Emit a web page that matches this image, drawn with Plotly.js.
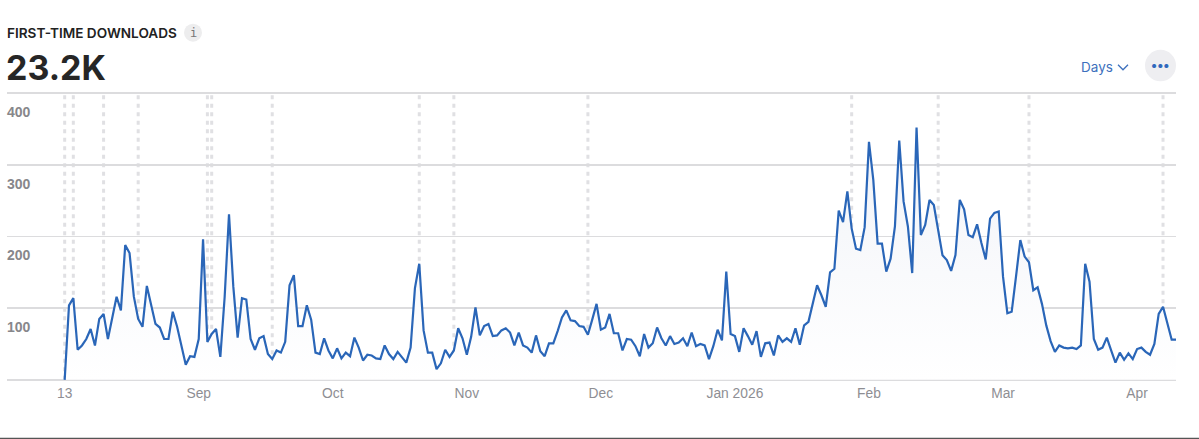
<!DOCTYPE html>
<html><head><meta charset="utf-8">
<script src="https://cdn.plot.ly/plotly-3.0.1.min.js"></script>
<style>html,body{margin:0;padding:0;background:#fff;overflow:hidden}#c{width:1199px;height:439px}</style>
</head><body><div id="c"></div>
<script>
const downloads = [0,104,114,42,48,57,71,48,85,92,57,85,116,97,188,177,116,85,74,131,104,78,73,57,57,95,74,48,21,33,32,57,196,53,64,71,32,116,231,130,59,114,112,57,42,58,61,36,29,41,38,53,132,146,75,
75,104,84,38,36,58,41,30,44,30,38,33,59,45,27,35,34,30,29,48,36,29,39,32,24,45,128,162,69,38,38,15,23,42,32,41,72,58,35,60,101,62,75,78,61,62,69,72,66,48,66,48,45,38,62,40,33,51,51,68,87,97,83,82,75,74,63,84,106,
70,73,92,65,65,41,57,56,47,33,64,45,51,73,58,48,61,50,52,58,47,66,47,50,48,29,47,70,55,151,64,61,39,72,61,49,68,32,51,52,34,62,53,58,53,72,49,76,81,109,132,118,102,150,155,236,220,263,211,183,181,213,332,279,190,190,151,169,214,334,249,214,149,352,202,216,251,244,207,174,167,152,174,251,238,202,199,217,191,168,225,233,235,144,93,95,144,195,172,164,125,129,106,76,54,39,48,45,44,45,43,48,162,137,57,42,45,59,41,24,38,28,37,29,43,45,39,35,50,92,102,78,56,56];
const dayIndex = downloads.map((_, i) => i);
const tickDays = [0,31,62,93,124,155,186,217,248];
const tickLabels = ['13','Sep','Oct','Nov','Dec','Jan 2026','Feb','Mar','Apr'];
const eventDays = [0,2,9,17,33,34,48,82,90,121,182,202,223,254];
const yTicks = [0,100,200,300,400];
const yTickLabels = ['','100','200','300','400'];
const metricTitle = 'FIRST-TIME DOWNLOADS';
const metricValue = '23.2K';
const W = 1199, H = 439, L = 7, R = 1176;
const pad = 3, unit = 0.7155;
const T = 93.3 - pad * unit, B = 379.5 + pad * unit;
const fx = p => (p - L) / (R - L), fy = p => (B - p) / (B - T);
const sans = 'Inter, "Liberation Sans", sans-serif';
const shapes = eventDays.map(d => ({type:'line', layer:'below', xref:'x', yref:'y', x0:d, x1:d, y0:0, y1:400,
  line:{color:'#e0e0e3', width:3, dash:'4px,4.5px'}}));
shapes.push({type:'circle', xref:'paper', yref:'paper', x0:fx(184), x1:fx(202), y0:fy(42), y1:fy(24), fillcolor:'#ededee', line:{width:0}});
shapes.push({type:'circle', xref:'paper', yref:'paper', x0:fx(1145), x1:fx(1176), y0:fy(81.5), y1:fy(50), fillcolor:'#eeeef1', line:{width:0}});
shapes.push({type:'path', xref:'paper', yref:'paper', path:`M ${fx(1118)} ${fy(65)} L ${fx(1123)} ${fy(70)} L ${fx(1128)} ${fy(65)}`, line:{color:'#3d70bd', width:1.3}});
shapes.push({type:'line', xref:'paper', yref:'paper', x0:fx(0), x1:fx(W), y0:fy(438), y1:fy(438), line:{color:'#555', width:1.5}});
const ann = (text,x,y,size,color,anchor,weight,family) => ({text, xref:'paper', yref:'paper', x:fx(x), y:fy(y), xanchor:anchor, yanchor:'middle', showarrow:false,
  font:{size, color, weight, family:family||sans}});
const annotations = [
  ann(metricTitle,5,33,13.6,'#222','left',600),
  ann(metricValue,4,68,34,'#262626','left',700),
  ann('i',193,33,12,'#777','center',400,'"DejaVu Sans Mono", monospace'),
  ann('Days',1079,67,13.5,'#3d70bd','left',400),
  ann('•••',1160.5,65,13,'#2f68bd','center',700)
];
Plotly.newPlot('c', [{
  x: dayIndex, y: downloads, type:'scatter', mode:'lines',
  line:{color:'#2a66b8', width:2.2, shape:'linear'},
  fill:'tozeroy',
  fillgradient:{type:'vertical', colorscale:[[0,'#ffffff'],[1,'#f1f3f8']]},
  hoverinfo:'skip'
}], {
  width:W, height:H, showlegend:false, paper_bgcolor:'#fff', plot_bgcolor:'#fff',
  margin:{l:L, r:W-R, t:T, b:H-B, pad:0},
  xaxis:{range:[(L-64.7)/4.326, 257], tickmode:'array', tickvals:tickDays, ticktext:tickLabels, showgrid:false, zeroline:false, showline:false, ticks:'',
    tickfont:{family:'"Liberation Sans", Arial, sans-serif', size:13.8, color:'#8e8e93'}, ticklabelstandoff:1},
  yaxis:{range:[-pad,400+pad], tickmode:'array', tickvals:yTicks, ticktext:yTickLabels, showgrid:true, gridcolor:'#dcdcde', gridwidth:1.4, zeroline:false, showline:false, ticks:'',
    ticklabelposition:'inside', ticklabelshift:19, ticklabelstandoff:-3,
    tickfont:{family:'"Liberation Sans", Arial, sans-serif', size:14, color:'#87878b', weight:600}},
  shapes, annotations
}, {displayModeBar:false, staticPlot:true});
</script></body></html>
